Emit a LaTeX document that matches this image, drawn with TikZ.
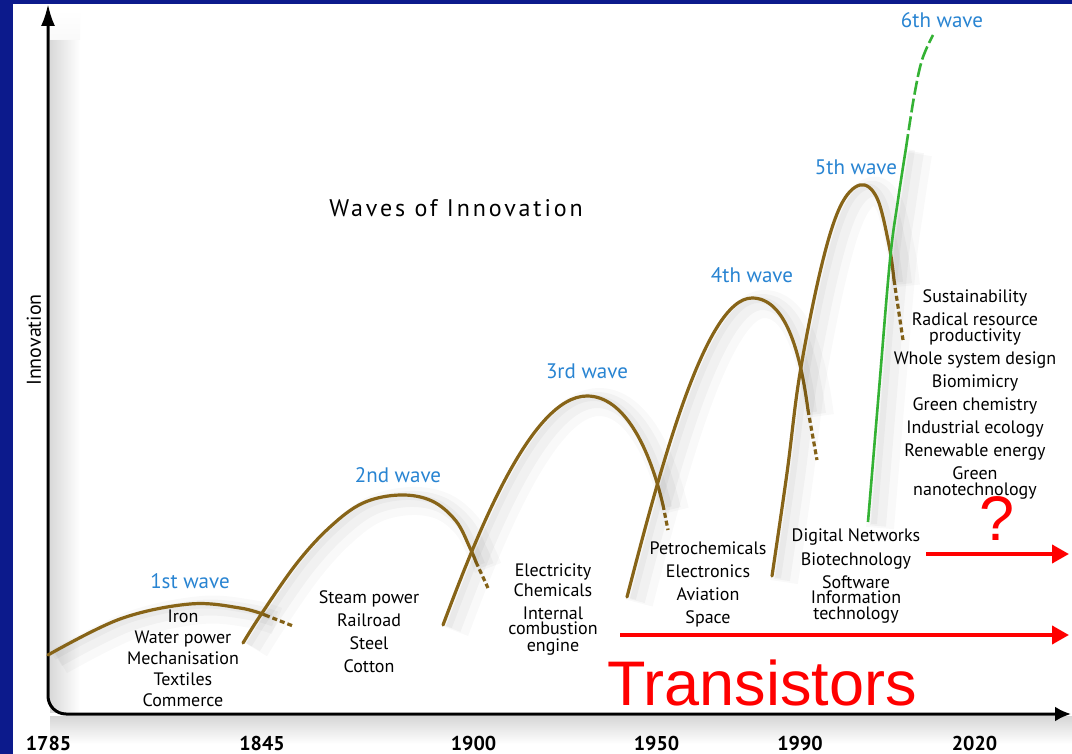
\documentclass[tikz,border=0pt]{standalone}
\usepackage{fontspec}
\setmainfont{PT Sans}
\newfontfamily\bigfont{Liberation Sans}
\newfontfamily\titlefont[LetterSpace=12]{PT Sans}
\usetikzlibrary{arrows.meta}

\definecolor{navy}{RGB}{12,26,140}
\definecolor{wavebrown}{RGB}{135,100,24}
\definecolor{wavegreen}{RGB}{52,178,52}
\definecolor{waveblue}{RGB}{40,132,210}

\begin{document}
\begin{tikzpicture}[ x = 0.5pt, y = -0.5pt
                     , font = \fontsize{9}{11.5}\selectfont
                     , every node/.style = { align = center, inner sep = 0pt }
                     , axis/.style = { line width = 1.5pt, rounded corners = 9pt
                                     , {Latex[length=11pt, width=7pt]}-{Latex[length=8pt, width=7.5pt]} }
                     , haze/.style = { preaction = { draw = black, draw opacity = 0.025, line width = 14pt
                                                   , transform canvas = {shift={(6pt,-3pt)}} }
                                     , preaction = { draw = black, draw opacity = 0.03, line width = 8pt
                                                   , transform canvas = {shift={(5pt,-2pt)}} }
                                     , preaction = { draw = black, draw opacity = 0.03, line width = 3pt
                                                   , transform canvas = {shift={(3pt,-1pt)}} } }
                     , wave/.style = { haze, draw = wavebrown, line width = 1.6pt, line cap = round }
                     , tail/.style = { draw = wavebrown, line width = 1.6pt, dash pattern = on 2.5pt off 1.5pt }
                     , green/.style = { haze, draw = wavegreen, line width = 1.3pt }
                     , greentail/.style = { draw = wavegreen, line width = 1.3pt, dash pattern = on 7pt off 2pt }
                     , wavelbl/.style = { text = waveblue, font = \fontsize{10.5}{12}\selectfont }
                     , year/.style = { font = \fontsize{10}{12}\selectfont\bfseries }
                     , redarrow/.style = { draw = red, line width = 2pt, -{Triangle[length=8.5pt, width=9pt]} }
                     , redtext/.style = { text = red, font = \bigfont\fontsize{31.5}{36}\selectfont, anchor = base }
                     ]

  %%
  %% Frame and shadows
  %%
  \fill[navy] (0,0) rectangle (1072,754);
  \fill[white] (13,4) rectangle (1072,754);
  \useasboundingbox (0,0) rectangle (1072,754);
  \shade[left color = black!15, right color = white] (50,40) rectangle (80,712);
  \shade[top color = white, bottom color = white!85!black!15] (50,10) rectangle (80,40);
  \shade[top color = black!16, bottom color = white] (50,716) rectangle (1072,744);

  %%
  %% Axes
  %%
  \coordinate (ytip) at (48,4);
  \coordinate (xtip) at (1071,714);
  \draw[axis] (ytip) |- (xtip);
  \node (ylbl) [rotate = 90, font = \fontsize{10}{12}\selectfont] at (34,340) {Innovation};

  \node (y1785) [year] at (48.5,743) {1785};
  \node (y1845) [year] at (262,743) {1845};
  \node (y1900) [year] at (473.5,743) {1900};
  \node (y1950) [year] at (656.5,743) {1950};
  \node (y1990) [year] at (800,743) {1990};
  \node (y2020) [year] at (974.5,743) {2020};

  \node (title) [font = \titlefont\fontsize{12}{14}\selectfont] at (456,208) {Waves of Innovation};

  %%
  %% Waves
  %%
  \draw[wave] plot[smooth, tension = 0.6] coordinates
    {(48,655) (120,619) (190,604) (240,608) (265,615)};
  \draw[tail] (265,615) -- (293,626);

  \draw[wave] plot[smooth, tension = 0.6] coordinates
    {(243,643) (262,613) (297,563) (330,527) (363,503) (400,495) (432,501) (456,521) (470,548) (476,562)};
  \draw[tail] (476,562) -- (488,588);

  \draw[wave] (443,625) .. controls (475,540) and (530,396) .. (587,396)
                        .. controls (625,396) and (650,450) .. (663,505);
  \draw[tail] (663,505) -- (668,530);

  \draw[wave] (627,597) .. controls (660,470) and (705,298) .. (752,298)
                        .. controls (785,298) and (800,350) .. (808,410);
  \draw[tail] (808,410) -- (817,460);

  \draw[wave] plot[smooth, tension = 0.6] coordinates
    {(772,576) (787,473) (800,373) (821,268) (840,207) (860,185) (877,198) (889,245) (894,280)};
  \draw[tail] (894,280) -- (903,340);

  \draw[green] plot[smooth, tension = 0.6] coordinates
    {(868,522) (879,390) (890,260) (898,200) (906,148)};
  \draw[greentail] plot[smooth, tension = 0.6] coordinates
    {(906,148) (914,97) (922,60) (933,35)};

  %%
  %% Wave labels
  %%
  \node (wave1) [wavelbl] at (190,581) {1st wave};
  \node (wave2) [wavelbl] at (398,475) {2nd wave};
  \node (wave3) [wavelbl] at (587,371) {3rd wave};
  \node (wave4) [wavelbl] at (752,275) {4th wave};
  \node (wave5) [wavelbl] at (856,167) {5th wave};
  \node (wave6) [wavelbl] at (942,20) {6th wave};

  %%
  %% Technologies of each wave
  %%
  \node (tech1) [font = \fontsize{9}{10.5}\selectfont] at (183,658)
    {Iron\\Water power\\Mechanisation\\Textiles\\Commerce};
  \node (tech2) at (369,632) {Steam power\\Railroad\\Steel\\Cotton};
  \node (tech3) at (553,610)
    {Electricity\\[-1.5pt]Chemicals\\Internal\\[-4pt]combustion\\[-3pt]engine};
  \node (tech4) at (708,584) {Petrochemicals\\Electronics\\Aviation\\Space};
  \node (tech5) at (856,576)
    {Digital Networks\\[0.5pt]Biotechnology\\Software\\[-4pt]Information\\[-3.5pt]technology};
  \node (tech6) at (975,394)
    {Sustainability\\Radical resource\\[-3.5pt]productivity\\Whole system design\\Biomimicry\\Green chemistry\\Industrial ecology\\Renewable energy\\Green\\[-3.5pt]nanotechnology};

  %%
  %% Transistors and what comes next
  %%
  \coordinate (nextstart) at (926,554);
  \coordinate (nextend) at (1069,554);
  \coordinate (transstart) at (620,635);
  \coordinate (transend) at (1069,635);
  \draw[redarrow] (nextstart) -- (nextend);
  \draw[redarrow] (transstart) -- (transend);
  \node (ask) [redtext] at (997,540) {?};
  \node (trans) [redtext] at (762,705) {Transistors};
\end{tikzpicture}
\end{document}
